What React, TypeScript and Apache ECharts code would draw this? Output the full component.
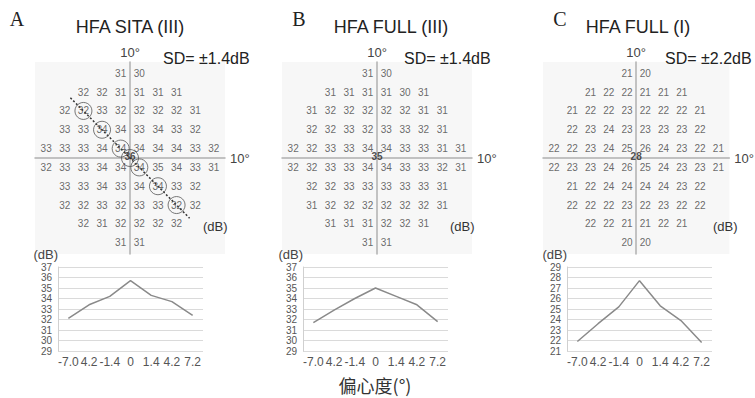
import React, { useEffect, useRef } from "react";
import * as echarts from "echarts";

// ---- Data ----
const panelLetters = ["A", "B", "C"];
const panelTitles = ["HFA SITA (III)", "HFA FULL (III)", "HFA FULL (I)"];
const sdLabels = ["SD= ±1.4dB", "SD= ±1.4dB", "SD= ±2.2dB"];

const mapRowsA = [
  [31, 30],
  [32, 32, 31, 31, 31, 31],
  [32, 32, 33, 32, 32, 32, 32, 31],
  [33, 33, 34, 34, 33, 34, 33, 32],
  [33, 33, 33, 34, 34, 34, 34, 34, 33, 32],
  [32, 33, 33, 34, 34, 34, 35, 34, 33, 31],
  [33, 33, 34, 33, 34, 34, 33, 32],
  [32, 32, 33, 32, 33, 33, 32, 32],
  [32, 31, 32, 32, 32, 32],
  [31, 31],
];
const mapRowsB = [
  [31, 30],
  [31, 31, 31, 31, 30, 31],
  [31, 32, 32, 32, 32, 32, 31, 31],
  [32, 32, 33, 32, 33, 33, 32, 31],
  [32, 32, 33, 33, 34, 34, 33, 33, 31, 31],
  [32, 32, 33, 33, 34, 34, 33, 33, 32, 31],
  [32, 32, 33, 33, 33, 33, 33, 31],
  [31, 32, 32, 32, 32, 32, 32, 31],
  [31, 31, 31, 32, 32, 31],
  [31, 31],
];
const mapRowsC = [
  [21, 20],
  [21, 22, 22, 21, 21, 21],
  [21, 22, 22, 23, 22, 22, 22, 21],
  [22, 23, 24, 23, 23, 23, 23, 22],
  [22, 22, 23, 24, 25, 26, 24, 23, 22, 21],
  [22, 23, 23, 24, 26, 25, 24, 23, 23, 21],
  [21, 22, 24, 24, 24, 24, 23, 22],
  [22, 22, 22, 23, 22, 23, 22, 22],
  [22, 22, 21, 21, 22, 21],
  [20, 20],
];
const centerValues = [36, 35, 28];

// circled points along the meridian in panel A (grid units)
const circlesA = [
  [-2.5, 2.5],
  [-1.5, 1.5],
  [-0.5, 0.5],
  [0, 0],
  [0.5, -0.5],
  [1.5, -1.5],
  [2.5, -2.5],
];
const diagonalA = [
  [-3.2, 3.2],
  [3.2, -3.2],
];

const eccentricity = ["-7.0", "4.2", "-1.4", "0", "1.4", "4.2", "7.2"];
const profileA = [32.1, 33.4, 34.2, 35.7, 34.3, 33.7, 32.4];
const profileB = [31.7, 32.9, 34.0, 35.0, 34.2, 33.4, 31.8];
const profileC = [21.9, 23.6, 25.2, 27.7, 25.3, 23.9, 21.8];
const profileRanges = [
  [29, 37],
  [29, 37],
  [21, 29],
];

const xAxisTitle = "偏心度(°)";

// ---- helpers ----
function rowsToPoints(rows: number[][]) {
  const pts: number[][] = [];
  rows.forEach((row, r) => {
    const start = (10 - row.length) / 2;
    row.forEach((v, i) => {
      pts.push([-4.5 + start + i, 4.5 - r, v]);
    });
  });
  return pts;
}

const FONT = "'Liberation Sans', Arial, sans-serif";

export default function App() {
  const ref = useRef<HTMLDivElement>(null);

  useEffect(() => {
    if (!ref.current) return;
    const chart = echarts.init(ref.current, undefined, { renderer: "svg" });

    const mapLefts = [35, 282, 543];
    const profLefts = [58, 303, 567];
    const maps = [mapRowsA, mapRowsB, mapRowsC];
    const profiles = [profileA, profileB, profileC];

    const grids: any[] = [];
    const xAxes: any[] = [];
    const yAxes: any[] = [];
    const series: any[] = [];

    for (let p = 0; p < 3; p++) {
      grids.push({
        left: mapLefts[p],
        top: 62,
        width: 190,
        height: 192,
        show: true,
        backgroundColor: "#f7f7f7",
        borderWidth: 0,
      });
      xAxes.push({
        gridIndex: p,
        type: "value",
        min: -5.1,
        max: 5.1,
        axisLine: { show: true, onZero: true, lineStyle: { color: "#b0b0b0", width: 1.5 } },
        axisTick: { show: false },
        axisLabel: { show: false },
        splitLine: { show: false },
        name: "10°",
        nameLocation: "end",
        nameGap: 5,
        nameTextStyle: { fontSize: 13, color: "#444", fontFamily: FONT },
      });
      yAxes.push({
        gridIndex: p,
        type: "value",
        min: -5.1,
        max: 5.1,
        axisLine: { show: true, onZero: true, lineStyle: { color: "#b0b0b0", width: 1.5 } },
        axisTick: { show: false },
        axisLabel: { show: false },
        splitLine: { show: false },
        name: "10°",
        nameLocation: "end",
        nameGap: 3,
        nameTextStyle: { fontSize: 13, color: "#444", fontFamily: FONT },
      });
      series.push({
        type: "scatter",
        xAxisIndex: p,
        yAxisIndex: p,
        symbolSize: 1,
        itemStyle: { color: "rgba(0,0,0,0)" },
        data: rowsToPoints(maps[p]),
        label: {
          show: true,
          position: "inside",
          formatter: (d: any) => String(d.value[2]),
          fontSize: 10,
          color: "#444",
          fontFamily: FONT,
        },
        z: 5,
      });
      series.push({
        type: "scatter",
        xAxisIndex: p,
        yAxisIndex: p,
        symbolSize: 1,
        itemStyle: { color: "rgba(0,0,0,0)" },
        data: [[0, 0, centerValues[p]]],
        label: {
          show: true,
          position: "inside",
          offset: [0, -2],
          formatter: (d: any) => String(d.value[2]),
          fontSize: 10,
          fontWeight: "bold",
          color: "#222",
          fontFamily: FONT,
        },
        z: 6,
      });
    }

    series.push({
      type: "line",
      xAxisIndex: 0,
      yAxisIndex: 0,
      data: diagonalA,
      symbol: "none",
      lineStyle: { color: "#333", width: 1.5, type: [2, 2] },
      z: 3,
    });
    series.push({
      type: "scatter",
      xAxisIndex: 0,
      yAxisIndex: 0,
      data: circlesA,
      symbol: "circle",
      symbolSize: 17,
      itemStyle: { color: "rgba(0,0,0,0)", borderColor: "#555", borderWidth: 1 },
      z: 4,
    });

    for (let p = 0; p < 3; p++) {
      const gi = 3 + p;
      grids.push({ left: profLefts[p], top: 267, width: 145, height: 84, show: false });
      xAxes.push({
        gridIndex: gi,
        type: "category",
        data: eccentricity,
        boundaryGap: true,
        axisLine: { show: false },
        axisTick: { show: false },
        axisLabel: { fontSize: 12, color: "#555", margin: 5, interval: 0, fontFamily: FONT },
      });
      yAxes.push({
        gridIndex: gi,
        type: "value",
        min: profileRanges[p][0],
        max: profileRanges[p][1],
        interval: 1,
        name: "(dB)",
        nameLocation: "end",
        nameGap: 6,
        nameTextStyle: { fontSize: 13, color: "#444", align: "right", fontFamily: FONT },
        axisLine: { show: true, lineStyle: { color: "#d0d0d0", width: 1 } },
        axisTick: { show: false },
        axisLabel: {
          fontSize: 10,
          lineHeight: 9,
          color: "#555",
          margin: 6,
          interval: 0,
          fontFamily: FONT,
          showMinLabel: true,
          showMaxLabel: true,
          hideOverlap: false,
        },
        splitLine: { show: true, lineStyle: { color: "#dadada", width: 1 } },
      });
      series.push({
        type: "line",
        xAxisIndex: gi,
        yAxisIndex: gi,
        data: profiles[p],
        symbol: "none",
        lineStyle: { color: "#8a8a8a", width: 1.5 },
      });
    }

    const letterX = [17, 299, 560];
    const titleX = [130, 391, 638];
    const sdX = [163, 404, 665];
    const mapDbX = [203, 450, 713];

    const graphics: any[] = [];
    for (let p = 0; p < 3; p++) {
      graphics.push({
        type: "text",
        x: letterX[p],
        y: 19,
        style: {
          text: panelLetters[p],
          fontSize: 20,
          fontFamily: "'Liberation Serif', 'DejaVu Serif', serif",
          fill: "#222",
          align: "center",
          verticalAlign: "middle",
        },
      });
      graphics.push({
        type: "text",
        x: titleX[p],
        y: 27,
        style: {
          text: panelTitles[p],
          fontSize: 18,
          fontFamily: FONT,
          fill: "#222",
          align: "center",
          verticalAlign: "middle",
        },
      });
      graphics.push({
        type: "text",
        x: sdX[p],
        y: 58,
        style: {
          text: sdLabels[p],
          fontSize: 16,
          fontFamily: FONT,
          fill: "#222",
          align: "left",
          verticalAlign: "middle",
        },
      });
      graphics.push({
        type: "text",
        x: mapDbX[p],
        y: 226,
        style: {
          text: "(dB)",
          fontSize: 13,
          fontFamily: FONT,
          fill: "#333",
          align: "left",
          verticalAlign: "middle",
        },
      });
    }
    graphics.push({
      type: "text",
      x: 375,
      y: 385,
      style: {
        text: xAxisTitle,
        fontSize: 18,
        fontFamily: "'Noto Sans CJK SC', sans-serif",
        fill: "#333",
        align: "center",
        verticalAlign: "middle",
      },
    });

    chart.setOption({
      animation: false,
      backgroundColor: "#ffffff",
      grid: grids,
      xAxis: xAxes,
      yAxis: yAxes,
      series,
      graphic: graphics,
    });

    return () => chart.dispose();
  }, []);

  return (
    <div
      ref={ref}
      style={{ position: "fixed", left: 0, top: 0, width: 755, height: 398 }}
    />
  );
}
